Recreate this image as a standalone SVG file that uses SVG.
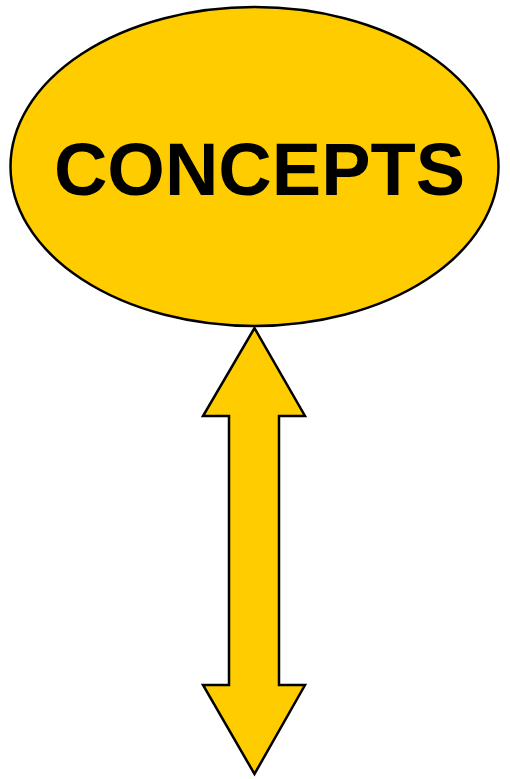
<svg xmlns="http://www.w3.org/2000/svg" width="510" height="779" viewBox="0 0 510 779">
<style>
.shape{fill:#FFCC00;stroke:#000;stroke-width:2.5;stroke-linejoin:miter}
.lbl{font-family:"Liberation Sans",Arial,sans-serif;font-weight:bold;font-size:74px;fill:#000}
</style>
<rect width="510" height="779" fill="#fff"/>
<g id="connectors">
<path class="shape" d="M254.5,328 L305,416 L279,416 L279,685 L305,685 L254.5,774 L203,685 L229,685 L229,416 L203,416 Z"/>
</g>
<g id="concepts">
<ellipse class="shape" cx="254.5" cy="166.5" rx="244" ry="159.5"/>
<text class="lbl" x="259.5" y="195" text-anchor="middle">CONCEPTS</text>
</g>
</svg>
